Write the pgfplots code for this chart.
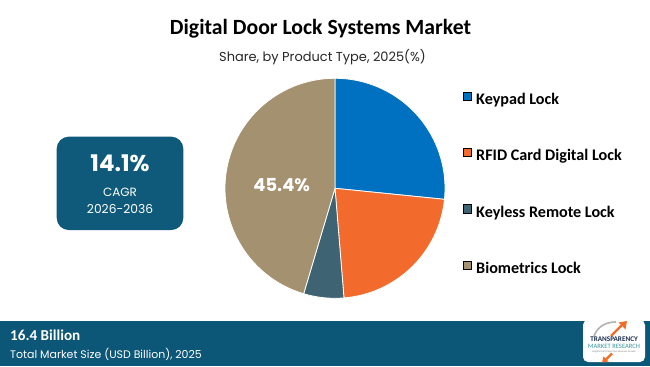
\documentclass[border=0pt]{standalone}
\usepackage{pgfplots}
\pgfplotsset{compat=1.18}
\usepackage{pgfplotstable}
\usepackage{fontspec}
\setmainfont{Carlito}
\newfontfamily\carlito{Carlito}
\newfontfamily\gothic{Poppins}
\definecolor{ckey}{RGB}{0,112,192}
\definecolor{crfid}{RGB}{243,107,44}
\definecolor{cless}{RGB}{62,99,115}
\definecolor{cbio}{RGB}{163,145,112}
\definecolor{cband}{RGB}{12,86,120}
\definecolor{cbox}{RGB}{15,90,123}
\definecolor{corange}{RGB}{240,110,40}
\definecolor{cnavy}{RGB}{25,45,80}
\definecolor{cteal}{RGB}{60,150,160}

\pgfplotstableread{
label value
Keypad 26.6
RFID 22.1
Keyless 5.9
Biometrics 45.4
}\piedata

\begin{document}
\begin{tikzpicture}[x=1bp,y=1bp]
\fill[white] (0,0) rectangle (650,366);
\useasboundingbox (0,0) rectangle (650,366);

\pgfplotstablegetelem{0}{value}\of\piedata \pgfmathsetmacro\va{\pgfplotsretval}
\pgfplotstablegetelem{1}{value}\of\piedata \pgfmathsetmacro\vb{\pgfplotsretval}
\pgfplotstablegetelem{2}{value}\of\piedata \pgfmathsetmacro\vc{\pgfplotsretval}
\pgfplotstablegetelem{3}{value}\of\piedata \pgfmathsetmacro\vd{\pgfplotsretval}
\pgfmathsetmacro\aA{90}
\pgfmathsetmacro\aB{\aA-3.6*\va}
\pgfmathsetmacro\aC{\aB-3.6*\vb}
\pgfmathsetmacro\aD{\aC-3.6*\vc}
\pgfmathsetmacro\aE{\aD-3.6*\vd}

% titles
\node[anchor=base, font=\carlito\bfseries\fontsize{21.8}{26}\selectfont] at (320.5,331.7) {Digital Door Lock Systems Market};
\node[anchor=base, font=\gothic\fontsize{13}{16}\selectfont, text=black!85] at (322.5,304.3) {Share, by Product Type, 2025(\%)};

\begin{axis}[
  at={(335bp,177.7bp)}, anchor=origin,
  width=220bp, height=220bp, scale only axis,
  xmin=-1, xmax=1, ymin=-1, ymax=1,
  hide axis, clip=false,
  legend image code/.code={\fill[#1] (0bp,0.7bp) rectangle (8.3bp,9bp);},
  legend style={draw=none, fill=none, inner sep=0pt, outer sep=0pt,
    at={(rel axis cs:1.082,0.94)}, anchor=north west,
    font=\carlito\bfseries\fontsize{16.2}{19}\selectfont,
    row sep=40bp, column sep=4.5bp,
    nodes={inner sep=0pt, text height=11bp, text depth=3.5bp}},
  legend cell align=left,
]
\addlegendimage{fill=ckey}
\addlegendentry{Keypad Lock}
\addlegendimage{fill=crfid}
\addlegendentry{RFID Card Digital Lock}
\addlegendimage{fill=cless}
\addlegendentry{Keyless Remote Lock}
\addlegendimage{fill=cbio}
\addlegendentry{Biometrics Lock}

\filldraw[fill=ckey, draw=white, line width=0.8pt, line join=round] (axis cs:0,0) -- (axis cs:{cos(\aA)},{sin(\aA)}) arc[start angle=\aA, end angle=\aB, radius=110bp] -- cycle;
\filldraw[fill=crfid, draw=white, line width=0.8pt, line join=round] (axis cs:0,0) -- (axis cs:{cos(\aB)},{sin(\aB)}) arc[start angle=\aB, end angle=\aC, radius=110bp] -- cycle;
\filldraw[fill=cless, draw=white, line width=0.8pt, line join=round] (axis cs:0,0) -- (axis cs:{cos(\aC)},{sin(\aC)}) arc[start angle=\aC, end angle=\aD, radius=110bp] -- cycle;
\filldraw[fill=cbio, draw=white, line width=0.8pt, line join=round] (axis cs:0,0) -- (axis cs:{cos(\aD)},{sin(\aD)}) arc[start angle=\aD, end angle=\aE, radius=110bp] -- cycle;
\node[anchor=base, text=white, font=\gothic\bfseries\fontsize{18}{22}\selectfont] at (axis cs:-0.4845,-0.031) {45.4\%};
\end{axis}

% CAGR box
\fill[cbox, rounded corners=12bp] (56.7,136) rectangle (183.3,229.3);
\node[anchor=base, text=white, font=\gothic\bfseries\fontsize{23}{27}\selectfont] at (120,194.3) {14.1\%};
\node[anchor=base, text=white, font=\gothic\fontsize{12}{14}\selectfont] at (120,169.3) {CAGR};
\node[anchor=base, text=white, font=\gothic\fontsize{12.3}{14}\selectfont] at (120,152.7) {2026-2036};

% bottom band
\fill[cband] (0,0) rectangle (650,45);
\node[anchor=base west, inner sep=0pt, text=white, font=\carlito\bfseries\fontsize{15.2}{18}\selectfont] at (10,26) {16.4 Billion};
\node[anchor=base west, inner sep=0pt, text=white, font=\gothic\fontsize{11}{14}\selectfont] at (10,7.7) {Total Market Size (USD Billion), 2025};

% logo
\fill[white, rounded corners=5bp] (583,4) rectangle (645,46);
\draw[gray!60, line width=1.6pt] (594,30) .. controls (598,40) and (606,44) .. (616,44);
\draw[corange, line width=2.2pt] (611,30) -- (622,41);
\fill[corange] (618.5,43.5) -- (627,45) -- (625.5,36.5) -- cycle;
\draw[corange, line width=2.2pt] (612,12.5) -- (606,6.5);
\fill[corange] (608.5,4.5) -- (602,3.5) -- (603.5,9.5) -- cycle;
\node[anchor=base, inner sep=0pt, text=cnavy, font=\carlito\bfseries\fontsize{7.2}{8}\selectfont] at (614,24.5) {TRANSPARENCY};
\node[anchor=base, inner sep=0pt, text=cteal, font=\carlito\fontsize{6.6}{8}\selectfont] at (614,17.5) {MARKET RESEARCH};
\node[anchor=base, inner sep=0pt, text=gray, font=\carlito\fontsize{2.6}{3}\selectfont] at (614,13.2) {Insights that Propel Your Business Growth};
\end{tikzpicture}
\end{document}
